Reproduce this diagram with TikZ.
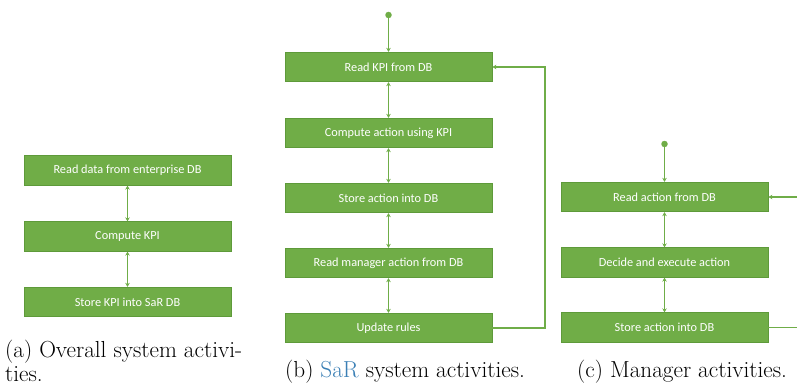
\documentclass[tikz,border=0pt]{standalone}
\usepackage{fontspec}
\newfontfamily\boxfont{Carlito}
\usetikzlibrary{arrows.meta}
\definecolor{gfill}{HTML}{70AD47}
\definecolor{gdraw}{HTML}{5E9A3A}
\definecolor{gline}{HTML}{6FAD48}
\definecolor{linkblue}{HTML}{3A7FB5}
\tikzset{
  actbox/.style={draw=gdraw, line width=0.8pt, fill=gfill, minimum width=207pt, minimum height=29.5pt, inner sep=0pt, text=white, font=\boxfont\fontsize{12.3}{14}\selectfont},
  conn/.style={draw=gline, line width=1.2pt, {Stealth[length=4pt,width=4.5pt]}-{Stealth[length=4pt,width=4.5pt]}},
  oneway/.style={draw=gline, line width=1.2pt, -{Stealth[length=4pt,width=4.5pt]}},
  plainline/.style={draw=gline, line width=1.2pt},
  startdot/.style={circle, fill=gfill, inner sep=0pt, minimum size=6.5pt},
  capt/.style={anchor=base west, inner sep=0pt, font=\fontsize{23.2}{26}\selectfont}
}
\begin{document}
\begin{tikzpicture}[x=1pt,y=-1pt]
\useasboundingbox (0,0) rectangle (797,385);
% (a)
\node[actbox] (a1) at (127.5,170.5) {Read data from enterprise DB};
\node[actbox] (a2) at (127.5,236.5) {Compute KPI};
\node[actbox] (a3) at (127.5,302) {Store KPI into SaR DB};
\draw[conn] (a1) -- (a2);
\draw[conn] (a2) -- (a3);
\node[capt] (capa1) at (5,357.5) {(a) Overall system activi-};
\node[capt] (capa2) at (5,381) {ties.};
% (b)
\node[startdot] (bs) at (388.5,15) {};
\node[actbox] (b1) at (388.5,67) {Read KPI from DB};
\node[actbox] (b2) at (388.5,133) {Compute action using KPI};
\node[actbox] (b3) at (388.5,198) {Store action into DB};
\node[actbox] (b4) at (388.5,263) {Read manager action from DB};
\node[actbox] (b5) at (388.5,328) {Update rules};
\draw[oneway] (bs) -- (b1);
\draw[conn] (b1) -- (b2);
\draw[conn] (b2) -- (b3);
\draw[conn] (b3) -- (b4);
\draw[conn] (b4) -- (b5);
\coordinate (bc1) at (545,328);
\coordinate (bc2) at (545,67);
\draw[oneway] (b5.east) -- (bc1) -- (bc2) -- (b1.east);
\node[capt] (capb) at (285,377) {(b) \textcolor{linkblue}{SaR} system activities.};
% (c)
\node[startdot] (cs) at (664.5,144) {};
\node[actbox] (c1) at (664.5,197) {Read action from DB};
\node[actbox] (c2) at (664.5,262.5) {Decide and execute action};
\node[actbox] (c3) at (664.5,327.5) {Store action into DB};
\draw[oneway] (cs) -- (c1);
\draw[conn] (c1) -- (c2);
\draw[conn] (c2) -- (c3);
\coordinate (cin) at (797,197);
\coordinate (cout) at (797,327.5);
\draw[oneway] (cin) -- (c1.east);
\draw[plainline] (c3.east) -- (cout);
\node[capt] (capc) at (577,377) {(c) Manager activities.};
\end{tikzpicture}
\end{document}
